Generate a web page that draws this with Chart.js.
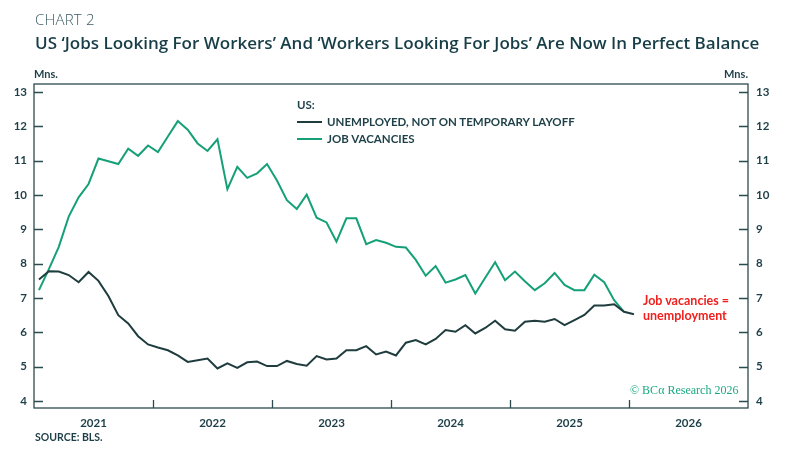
<!DOCTYPE html>
<html>
<head>
<meta charset="utf-8">
<script src="https://cdn.jsdelivr.net/npm/chart.js@4.4.1/dist/chart.umd.min.js"></script>
<style>
  html, body { margin:0; padding:0; background:#fff; }
  body { width:785px; height:457px; position:relative; overflow:hidden; font-family:'Lato', sans-serif; }
  #c { position:absolute; left:0; top:0; }
  .t { position:absolute; white-space:nowrap; color:#1d3f47; }
  #kicker { left:35px; top:9px; font-family:'Open Sans', sans-serif; font-weight:300; font-size:15px; color:#3a5a61; letter-spacing:0.2px; }
  #title { left:35px; top:31px; font-family:'Open Sans', sans-serif; font-weight:600; font-size:17px; color:#173e47; }
  .mns { top:67px; font-weight:700; font-size:11px; }
  #lg { left:297px; top:96px; font-weight:700; font-size:11.5px; line-height:17px; }
  #lg .row { display:flex; align-items:center; }
  #lg .sw { width:25px; height:0; border-top:2px solid; margin-right:5px; }
  #note { left:643px; top:293px; color:#f0201e; font-weight:700; font-size:12.5px; line-height:15px; }
  #wm { left:630px; top:383px; color:#19a982; font-family:'Liberation Serif', 'DejaVu Serif', serif; font-size:12px; }
  #src { left:35px; top:431px; font-weight:700; font-size:10.5px; }
</style>
</head>
<body>
<canvas id="c" width="785" height="457"></canvas>
<div class="t" id="kicker">CHART 2</div>
<div class="t" id="title">US ‘Jobs Looking For Workers’ And ‘Workers Looking For Jobs’ Are Now In Perfect Balance</div>
<div class="t mns" style="left:34px;">Mns.</div>
<div class="t mns" style="right:37px;">Mns.</div>
<div class="t" id="lg">
  <div>US:</div>
  <div class="row"><span class="sw" style="border-color:#1f3c3e"></span>UNEMPLOYED, NOT ON TEMPORARY LAYOFF</div>
  <div class="row"><span class="sw" style="border-color:#16a078"></span>JOB VACANCIES</div>
</div>
<div class="t" id="note">Job vacancies =<br>unemployment</div>
<div class="t" id="wm">© BCα Research 2026</div>
<div class="t" id="src">SOURCE: BLS.</div>
<script>
// Monthly data, Jan 2021 onward (millions)
const unemployed = [
  7.54, 7.78, 7.77, 7.67, 7.46, 7.76, 7.50, 7.06, 6.50, 6.26, 5.89, 5.65,
  5.56, 5.48, 5.33, 5.14, 5.19, 5.24, 4.95, 5.10, 4.97, 5.13, 5.15, 5.02,
  5.02, 5.17, 5.08, 5.03, 5.31, 5.21, 5.24, 5.48, 5.48, 5.60, 5.36, 5.44,
  5.33, 5.70, 5.78, 5.65, 5.81, 6.07, 6.02, 6.21, 5.97, 6.13, 6.34, 6.09,
  6.05, 6.31, 6.34, 6.31, 6.39, 6.21, 6.36, 6.51, 6.78, 6.78, 6.82, 6.60,
  6.53
];
const vacancies = [
  7.23, 7.84, 8.49, 9.37, 9.93, 10.32, 11.06, 10.98, 10.90, 11.35, 11.14, 11.44,
  11.25, 11.70, 12.15, 11.90, 11.50, 11.28, 11.62, 10.17, 10.82, 10.50, 10.63, 10.90,
  10.42, 9.85, 9.59, 10.01, 9.34, 9.20, 8.64, 9.32, 9.32, 8.57, 8.69, 8.61,
  8.49, 8.47, 8.11, 7.65, 7.93, 7.45, 7.54, 7.67, 7.13, 7.59, 8.04, 7.52,
  7.77, 7.49, 7.23, 7.43, 7.73, 7.38, 7.23, 7.23, 7.68, 7.46, 6.94, 6.60
];
const yearLabels = ['2021', '2022', '2023', '2024', '2025', '2026'];
const yTicks = [4, 5, 6, 7, 8, 9, 10, 11, 12, 13];

const AXIS = '#2b4b51';
const TXT = '#1d3f47';
const toPts = arr => arr.map((v, i) => ({ x: i + 0.5, y: v }));

const frame = {
  id: 'frame',
  afterDraw(chart) {
    const { ctx, chartArea: a, scales } = chart;
    const xs = scales.x, ys = scales.y;
    ctx.save();
    ctx.strokeStyle = AXIS;
    ctx.lineWidth = 1.3;
    ctx.strokeRect(a.left, a.top, a.right - a.left, a.bottom - a.top);
    ctx.beginPath();
    yTicks.forEach(v => {
      const py = Math.round(ys.getPixelForValue(v)) + 0.5;
      ctx.moveTo(a.left, py); ctx.lineTo(a.left + 9, py);
      ctx.moveTo(a.right - 9, py); ctx.lineTo(a.right, py);
    });
    for (let k = 1; k < yearLabels.length; k++) {
      const px = Math.round(xs.getPixelForValue(k * 12)) + 0.5;
      ctx.moveTo(px, a.bottom); ctx.lineTo(px, a.bottom - 8);
    }
    ctx.stroke();
    ctx.restore();
  }
};

const tickFont = { family: 'Lato', weight: 'bold', size: 11.5 };
const noGrid = { display: false, drawTicks: false };

new Chart(document.getElementById('c'), {
  type: 'line',
  data: {
    datasets: [
      { label: 'UNEMPLOYED, NOT ON TEMPORARY LAYOFF', data: toPts(unemployed), borderColor: '#1f3c3e', borderWidth: 2, pointRadius: 0, tension: 0, yAxisID: 'y' },
      { label: 'JOB VACANCIES', data: toPts(vacancies), borderColor: '#16a078', borderWidth: 2, pointRadius: 0, tension: 0, yAxisID: 'y' }
    ]
  },
  options: {
    responsive: false,
    animation: false,
    layout: { padding: { top: 84, left: 0, right: 0, bottom: 0 } },
    plugins: { legend: { display: false }, tooltip: { enabled: false } },
    scales: {
      x: {
        type: 'linear', min: 0, max: yearLabels.length * 12,
        grid: noGrid, border: { display: false },
        afterBuildTicks: s => { s.ticks = yearLabels.map((l, i) => ({ value: i * 12 + 6 })); },
        ticks: { color: TXT, font: tickFont, padding: 8, maxRotation: 0, autoSkip: false,
                 callback: (v) => yearLabels[Math.floor(v / 12)] },
        afterFit: s => { s.height = 49; }
      },
      y: {
        position: 'left', min: 3.8, max: 13.23,
        grid: noGrid, border: { display: false },
        afterBuildTicks: s => { s.ticks = yTicks.map(v => ({ value: v })); },
        ticks: { color: TXT, font: tickFont, padding: 7 },
        afterFit: s => { s.width = 34; }
      },
      y2: {
        position: 'right', min: 3.8, max: 13.23,
        grid: noGrid, border: { display: false },
        afterBuildTicks: s => { s.ticks = yTicks.map(v => ({ value: v })); },
        ticks: { color: TXT, font: tickFont, padding: 8 },
        afterFit: s => { s.width = 37; }
      }
    }
  },
  plugins: [frame]
});
</script>
</body>
</html>
